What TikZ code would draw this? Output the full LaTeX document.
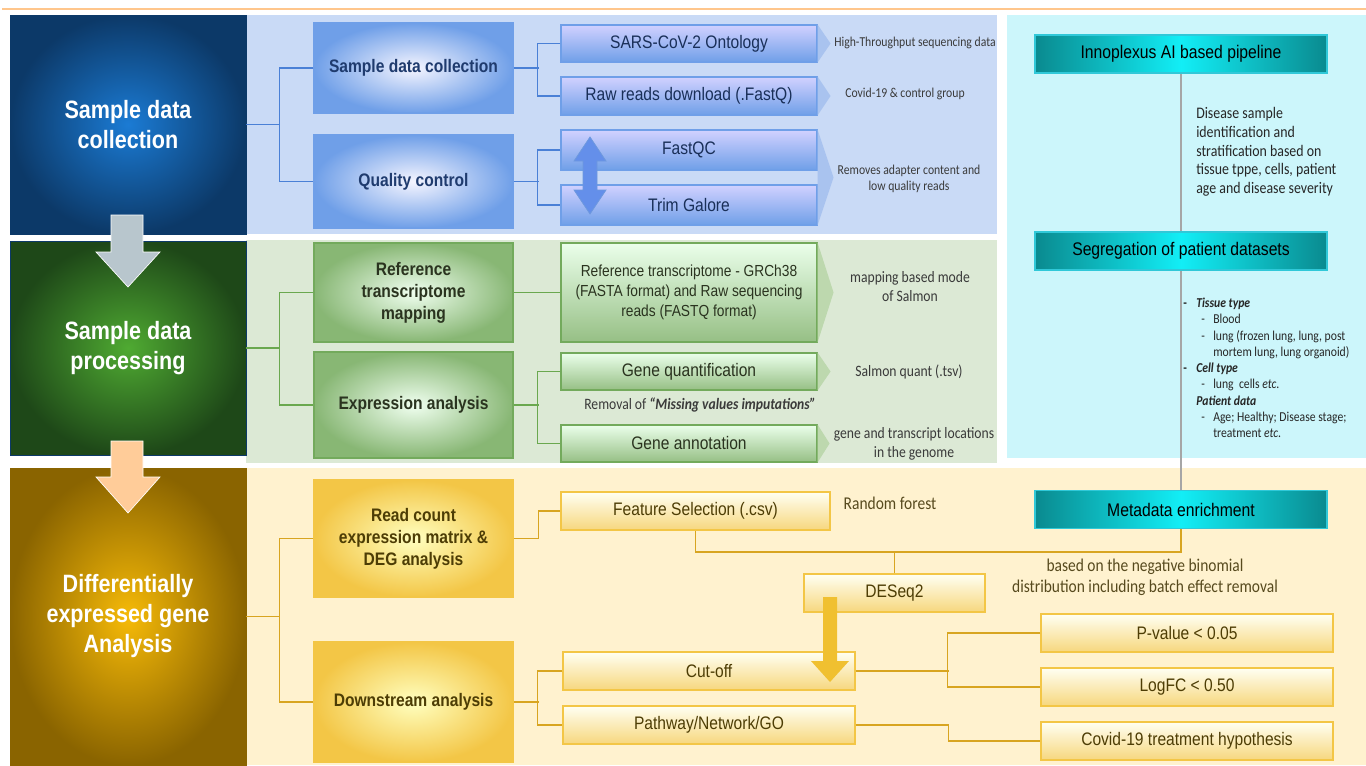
\documentclass[tikz,border=0pt]{standalone}
\usepackage{fontspec}
\setmainfont{Liberation Sans}[FakeStretch=0.86]
\newfontfamily\notefont{Carlito}[FakeStretch=0.86]
\usepackage{tikz}
\usetikzlibrary{calc}

\definecolor{bpanel}{HTML}{C9DAF6}
\definecolor{gpanel}{HTML}{DCE9D5}
\definecolor{ypanel}{HTML}{FFF2CF}
\definecolor{cpanel}{HTML}{CCF6FB}
\definecolor{bbig}{HTML}{1B7BD4}
\definecolor{bbigout}{HTML}{0C3968}
\definecolor{gbig}{HTML}{4FAA32}
\definecolor{gbigout}{HTML}{1E4818}
\definecolor{ybig}{HTML}{F6BA08}
\definecolor{ybigout}{HTML}{8A6400}
\definecolor{bedge}{HTML}{6F9FE8}
\definecolor{btext}{HTML}{1F3B6E}
\definecolor{bcon}{HTML}{4A80D6}
\definecolor{bchev}{HTML}{A9C3EF}
\definecolor{gedge}{HTML}{73AA5C}
\definecolor{gtext}{HTML}{2A331F}
\definecolor{gcon}{HTML}{6AA84F}
\definecolor{gchev}{HTML}{BDD8AE}
\definecolor{yedge}{HTML}{F3C646}
\definecolor{ytext}{HTML}{4D3D05}
\definecolor{ycon}{HTML}{D8A521}
\definecolor{yarrow}{HTML}{F0C030}
\definecolor{aidark}{HTML}{0A8A8F}
\definecolor{aimid}{HTML}{12EEF6}
\definecolor{aiedge}{HTML}{30C8D8}
\definecolor{notegray}{HTML}{3A3A3A}

\tikzset{
  sz/.style 2 args={minimum width=#1*0.75pt, minimum height=#2*0.75pt},
  box/.style={rectangle, align=center, inner sep=1pt, line width=0.8pt},
  bigbox/.style={box, text=white, line width=0.5pt, font=\fontsize{18.8}{22.5}\selectfont\bfseries},
  midbox/.style={box, font=\fontsize{13.6}{16.5}\selectfont\bfseries},
  subbox/.style={box, font=\fontsize{13.6}{15}\selectfont},
  bmid/.style={midbox, draw=bedge, inner color=blue!4!white, outer color=bedge, text=btext},
  bsub/.style={subbox, draw=bedge, top color=blue!18!white, bottom color=bedge, text=btext!80!black},
  gmid/.style={midbox, draw=gedge, inner color=green!6!white, outer color=gedge!85, text=gtext},
  gsub/.style={subbox, draw=gedge, top color=green!8!white, bottom color=gedge!75, text=gtext},
  ymid/.style={midbox, draw=yedge, inner color=yellow!25!white, outer color=yedge, text=ytext},
  ysub/.style={subbox, draw=yedge, top color=yellow!5!white, bottom color=yedge!70, text=ytext},
  aibox/.style={box, sz={292}{38}, draw=aiedge, left color=aidark, right color=aidark, middle color=aimid, font=\fontsize{13.7}{16}\selectfont},
  note/.style={align=center, inner sep=0pt, text=notegray, font=\notefont\fontsize{10.2}{12}\selectfont},
  gnote/.style={note, font=\notefont\fontsize{11.9}{14.3}\selectfont},
  ynote/.style={note, text=ytext!80!gray, font=\notefont\fontsize{13.5}{15.8}\selectfont},
  blink/.style={draw=bcon, line width=1.1pt},
  glink/.style={draw=gcon, line width=1.1pt},
  ylink/.style={draw=ycon, line width=1.1pt},
  ailink/.style={draw=gray!70, line width=0.8pt}
}

\begin{document}
\begin{tikzpicture}[x=0.75pt, y=-0.75pt]
\useasboundingbox (0,0) rectangle (1366,765);
\fill[white] (0,0) rectangle (1366,765);
\draw[orange!45, line width=1pt] (2,9) -- (1366,9);

% panels
\fill[bpanel] (246,15) rectangle (997,234);
\fill[gpanel] (246,240) rectangle (997,463);
\fill[ypanel] (246,468) rectangle (1366,765);
\fill[cpanel] (1007,15) rectangle (1366,458);

% left column
\node[bigbox, sz={236}{219}, draw=bbigout, inner color=bbig, outer color=bbigout] (bbA) at (128,124.5) {Sample data\\collection};
\node[bigbox, sz={236}{214}, draw=bbigout, inner color=gbig, outer color=gbigout] (bbB) at (128,348) {Sample data\\processing};
\node[bigbox, sz={236}{297}, draw=ybigout, inner color=ybig, outer color=ybigout] (bbC) at (128,616.5) {Differentially\\expressed gene\\Analysis};

\fill[cyan!20!gray!55, draw=white, line width=0.5pt] (111,215) -- (143,215) -- (143,252) -- (160,252) -- (128,287) -- (96,252) -- (111,252) -- cycle;
\fill[orange!40, draw=white, line width=0.5pt] (111,441) -- (143,441) -- (143,477) -- (160,477) -- (128,513) -- (96,477) -- (111,477) -- cycle;

% collection
\node[bmid, sz={199}{90}] (sdc) at (413.5,68) {Sample data collection};
\node[bmid, sz={199}{93}] (qc) at (413.5,181.5) {Quality control};
\node[bsub, sz={256}{37}] (sars) at (689,43.5) {SARS-CoV-2 Ontology};
\node[bsub, sz={256}{38}] (raw) at (689,96) {Raw reads download (.FastQ)};
\node[bsub, sz={256}{40}] (fqc) at (689,150) {FastQC};
\node[bsub, sz={256}{40}] (trim) at (689,205) {Trim Galore};

\fill[bchev] (sars.north east) -- ($(sars.east)+(13,0)$) -- (sars.south east) -- cycle;
\fill[bchev] (raw.north east) -- ($(raw.east)+(13,0)$) -- (raw.south east) -- cycle;
\fill[bchev] (fqc.north east) -- ($(fqc.north east)!0.5!(trim.south east)+(16,0)$) -- (trim.south east) -- cycle;

\filldraw[fill=bedge!90!blue, draw=bcon!80!white, line width=0.6pt] (590,137) -- (606,161) -- (597,161) -- (597,190) -- (606,190) -- (590,214) -- (574,190) -- (583,190) -- (583,161) -- (574,161) -- cycle;

\draw[blink] (bbA.east) -- +(34,0);
\draw[blink] (sdc.west) -- +(-34,0) |- (qc.west);
\draw[blink] (sdc.east) -- +(25,0);
\draw[blink] (sars.west) -- +(-23,0) |- (raw.west);
\draw[blink] (qc.east) -- +(25,0);
\draw[blink] (fqc.west) -- +(-23,0) |- (trim.west);

\node[note] (htp) at (915,43) {High-Throughput sequencing data};
\node[note] (grp) at (905,94) {Covid-19 \& control group};
\node[note] (rem) at (909,179) {Removes adapter content and\\low quality reads};

% processing
\node[gmid, sz={199}{99}] (rtm) at (413.5,292.5) {Reference\\transcriptome\\mapping};
\node[gmid, sz={199}{106}] (expr) at (413.5,405) {Expression analysis};
\node[gsub, sz={256}{99}, font=\fontsize{12}{15}\selectfont] (refr) at (689,292.5) {Reference transcriptome - GRCh38\\(FASTA format) and Raw sequencing\\reads (FASTQ format)};
\node[gsub, sz={256}{37}] (gq) at (689,371.5) {Gene quantification};
\node[gsub, sz={256}{37}] (ga) at (689,443.5) {Gene annotation};

\fill[gchev] (refr.north east) -- ($(refr.east)+(16,0)$) -- (refr.south east) -- cycle;
\fill[gchev] (gq.north east) -- ($(gq.east)+(13,0)$) -- (gq.south east) -- cycle;
\fill[gchev] (ga.north east) -- ($(ga.east)+(12,0)$) -- (ga.south east) -- cycle;

\draw[glink] (bbB.east) -- +(34,0);
\draw[glink] (rtm.west) -- +(-34,0) |- (expr.west);
\draw[glink] (rtm.east) -- (refr.west);
\draw[glink] (expr.east) -- +(25,0);
\draw[glink] (gq.west) -- +(-23,0) |- (ga.west);

\node[gnote] (salm) at (910,287) {mapping based mode\\of Salmon};
\node[gnote] (quant) at (909,372) {Salmon quant (.tsv)};
\node[gnote] (loc) at (914,444) {gene and transcript locations\\in the genome};
\node[gnote] (miss) at (700,405) {Removal of \textbf{\textit{“Missing values imputations”}}};

% pipeline
\node[aibox] (ipl) at (1181,54) {Innoplexus AI based pipeline};
\node[aibox] (seg) at (1181,251) {Segregation of patient datasets};
\node[aibox] (meta) at (1181,509.5) {Metadata enrichment};
\draw[ailink] (ipl.south) -- (seg.north);
\draw[ailink] (seg.south) -- (meta.north);

\node[note, align=left, anchor=west, text=black!85, font=\notefont\fontsize{12.1}{14}\selectfont] (desc) at (1196,152) {Disease sample\\identification and\\stratification based on\\tissue tppe, cells, patient\\age and disease severity};
\node[note, align=left, anchor=west, text=black!85, font=\notefont\fontsize{10.2}{12.2}\selectfont] (lst) at (1183,368) {%
\makebox[9.75pt][l]{\textbf{-}}\textbf{\textit{Tissue type}}\\
\hspace{13.5pt}\makebox[9pt][l]{-}Blood\\
\hspace{13.5pt}\makebox[9pt][l]{-}lung (frozen lung, lung, post\\
\hspace{22.5pt}mortem lung, lung organoid)\\
\makebox[9.75pt][l]{\textbf{-}}\textbf{\textit{Cell type}}\\
\hspace{13.5pt}\makebox[9pt][l]{-}lung\ \ cells \textit{etc.}\\
\hspace{9.75pt}\textbf{\textit{Patient data}}\\
\hspace{13.5pt}\makebox[9pt][l]{-}Age; Healthy; Disease stage;\\
\hspace{22.5pt}treatment \textit{etc.}};

% DEG analysis
\node[ymid, sz={199}{117}] (rc) at (413.5,538.5) {Read count\\expression matrix \&\\DEG analysis};
\node[ymid, sz={199}{120}] (ds) at (413.5,702) {Downstream analysis};
\node[ysub, sz={269}{38}] (fs) at (695.5,511) {Feature Selection (.csv)};
\node[ysub, sz={181}{38}] (deseq) at (894.5,593) {DESeq2};
\node[ysub, sz={292}{38}] (cut) at (709,671) {Cut-off};
\node[ysub, sz={292}{38}] (pw) at (709,725) {Pathway/Network/GO};
\node[ysub, sz={292}{38}] (pv) at (1187,633) {P-value < 0.05};
\node[ysub, sz={292}{38}] (lfc) at (1187,687) {LogFC < 0.50};
\node[ysub, sz={292}{38}] (cth) at (1187,741) {Covid-19 treatment hypothesis};

\coordinate (jf) at (695.5,552);
\draw[ylink] (bbC.east) -- +(34,0);
\draw[ylink] (rc.west) -- +(-34,0) |- (ds.west);
\draw[ylink] (rc.east) -- +(25,0) |- (fs.west);
\draw[ylink] (ds.east) -- +(25,0);
\draw[ylink] (cut.west) -- +(-25,0) |- (pw.west);
\draw[ylink] (fs.south) -- (jf) -| (meta.south);
\draw[ylink] (deseq.north) -- (deseq.north |- jf);
\draw[ylink] (cut.east) -- +(93,0);
\draw[ylink] (pv.west) -- +(-93,0) |- (lfc.west);
\draw[ylink] (pw.east) -- +(93,0) |- (cth.west);

\node[ynote] (rf) at (890,503) {Random forest};
\node[ynote] (nb) at (1145,577) {based on the negative binomial\\distribution including batch effect removal};

\fill[yarrow] (823,597) -- (837,597) -- (837,661) -- (849,661) -- (830,682) -- (811,661) -- (823,661) -- cycle;
\end{tikzpicture}
\end{document}
